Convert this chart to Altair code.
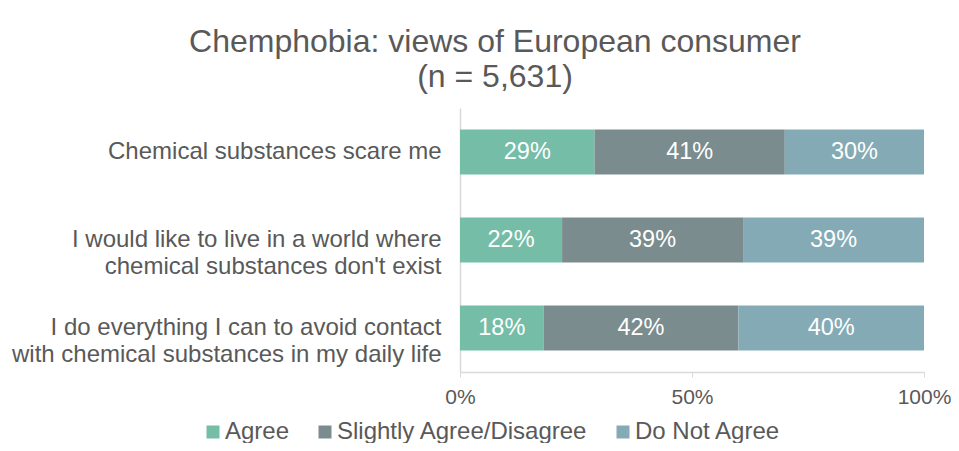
import altair as alt
import pandas as pd

questions = [
    "Chemical substances scare me",
    "I would like to live in a world where|chemical substances don't exist",
    "I do everything I can to avoid contact|with chemical substances in my daily life",
]
categories = ["Agree", "Slightly Agree/Disagree", "Do Not Agree"]
agree = [29, 22, 18]
slightly = [41, 39, 42]
not_agree = [30, 39, 40]
colors = ["#75BDA7", "#7A8C8E", "#84ABB5"]

rows = []
for i, q in enumerate(questions):
    for j, (cat, vals) in enumerate(zip(categories, [agree, slightly, not_agree])):
        rows.append({"question": q, "category": cat, "value": vals[i], "order": j})
df = pd.DataFrame(rows)

FONT = "Arial, Liberation Sans, sans-serif"
GRAY = "#595959"

base = alt.Chart(df).encode(
    y=alt.Y("question:N", sort=questions, title=None,
            scale=alt.Scale(paddingInner=0.49, paddingOuter=0.245),
            axis=alt.Axis(labelExpr="split(datum.label, '|')", labelFontSize=24,
                          labelColor=GRAY, labelFont=FONT, labelLineHeight=27,
                          labelPadding=19, ticks=False, domainColor="#D9D9D9",
                          domainWidth=1.5, labelLimit=600)),
)

bars = base.mark_bar(strokeWidth=0).encode(
    x=alt.X("sum(value):Q", stack="normalize", title=None,
            scale=alt.Scale(domain=[0, 1]),
            axis=alt.Axis(values=[0, 0.5, 1], format="%", labelFontSize=21,
                          labelColor=GRAY, labelFont=FONT, grid=False,
                          domainColor="#D9D9D9", tickColor="#D9D9D9", tickSize=5,
                          labelPadding=9, domainWidth=1.5, labelFlush=False)),
    color=alt.Color("category:N", sort=categories,
                    scale=alt.Scale(domain=categories, range=colors),
                    legend=alt.Legend(title=None, orient="none", direction="horizontal",
                                      legendX=-259, legendY=312, symbolType="square",
                                      symbolSize=169, symbolStrokeWidth=0,
                                      labelFontSize=24, labelColor=GRAY, labelFont=FONT,
                                      columnPadding=23, labelOffset=0, labelLimit=400)),
    order=alt.Order("order:Q"),
)

texts = base.transform_stack(
    stack="value", groupby=["question"], as_=["v0", "v1"],
    sort=[alt.SortField("order")], offset="normalize"
).transform_calculate(
    mid="(datum.v0 + datum.v1) / 2",
    label="datum.value + '%'"
).mark_text(color="white", fontSize=23.5, font=FONT).encode(
    x=alt.X("mid:Q"),
    text="label:N",
)

chart = alt.layer(bars, texts).properties(
    width=464, height=264,
    padding={"left": 452, "top": 100, "right": 27, "bottom": 71},
    autosize=alt.AutoSizeParams(type="none"),
    title=alt.TitleParams(
        text=["Chemphobia: views of European consumer", "(n = 5,631)"],
        fontSize=32, font=FONT, color=GRAY, fontWeight="normal",
        anchor="middle", dx=-197, offset=14, lineHeight=35,
    ),
).configure_view(stroke=None)

chart.save("out.html", embed_options={"renderer": "svg", "actions": False})
